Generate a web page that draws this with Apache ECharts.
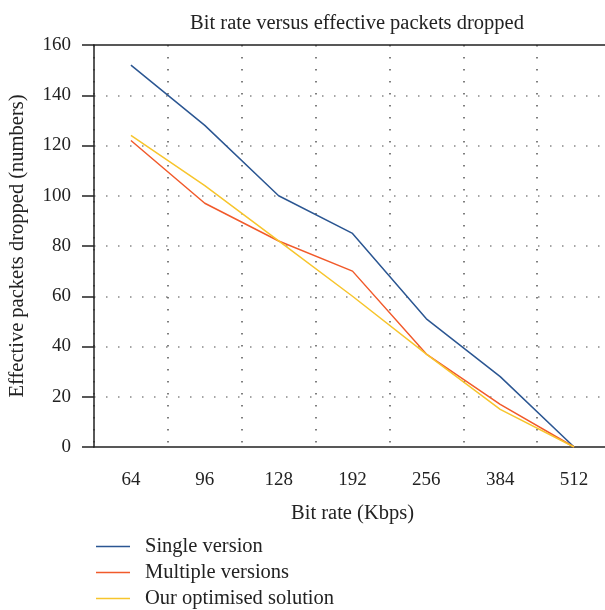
<!DOCTYPE html>
<html>
<head>
<meta charset="utf-8">
<script src="https://cdn.jsdelivr.net/npm/echarts@6/dist/echarts.min.js"></script>
<style>
  html, body { margin: 0; padding: 0; background: #fff; }
  #chart-container { width: 605px; height: 610px; }
</style>
</head>
<body>
<div id="chart-container"></div>
<script>
var bitRates = ['64', '96', '128', '192', '256', '384', '512'];
var singleVersion = [152, 128, 100, 85, 51, 28, 0];
var multipleVersions = [122, 97, 82, 70, 37, 17, 0];
var optimisedSolution = [124, 104, 82, 60, 37, 15, 0];

var dom = document.getElementById('chart-container');
var bitRateChart = echarts.init(dom, null, {
    renderer: 'canvas',
    useDirtyRect: false
});

var serifFont = '"Liberation Serif", "DejaVu Serif", serif';

var option;

option = {
    animation: false,
    textStyle: {
        fontFamily: serifFont
    },
    title: {
        text: 'Bit rate versus effective packets dropped',
        left: 352,
        textAlign: 'center',
        top: 8,
        textStyle: {
            fontFamily: serifFont,
            fontWeight: 'normal',
            fontSize: 20.5,
            color: '#222'
        }
    },
    legend: {
        orient: 'vertical',
        left: 96,
        top: 536,
        height: 90,
        padding: 0,
        icon: 'rect',
        itemWidth: 34,
        itemHeight: 1.5,
        itemGap: 5,
        textStyle: {
            fontFamily: serifFont,
            fontSize: 20.5,
            lineHeight: 21,
            color: '#222',
            padding: [0, 0, 0, 10]
        },
        data: ['Single version', 'Multiple versions', 'Our optimised solution']
    },
    grid: {
        left: 94,
        top: 45,
        width: 517,
        height: 402,
        outerBoundsMode: 'none'
    },
    xAxis: [
        {
            type: 'category',
            data: bitRates,
            boundaryGap: true,
            name: 'Bit rate (Kbps)',
            nameLocation: 'middle',
            nameGap: 56,
            nameTextStyle: {
                fontFamily: serifFont,
                fontSize: 20.5,
                color: '#222'
            },
            axisLine: {
                lineStyle: { color: '#222', width: 1.5 }
            },
            axisTick: {
                interval: 0,
                length: 11,
                lineStyle: { color: '#222', width: 1.5 }
            },
            axisLabel: {
                interval: 0,
                margin: 24,
                fontSize: 19,
                color: '#222',
                fontFamily: serifFont
            },
            splitLine: {
                show: true,
                interval: 0,
                lineStyle: { color: '#555', width: 1.5, type: [1.5, 10.5] }
            }
        },
        {
            // top frame line only
            type: 'category',
            data: bitRates,
            position: 'top',
            axisLine: {
                show: true,
                lineStyle: { color: '#222', width: 1.5 }
            },
            axisTick: { show: false },
            axisLabel: { show: false },
            splitLine: { show: false }
        }
    ],
    yAxis: {
        type: 'value',
        min: 0,
        max: 160,
        interval: 20,
        name: 'Effective packets dropped (numbers)',
        nameLocation: 'middle',
        nameGap: 66,
        nameTextStyle: {
            fontFamily: serifFont,
            fontSize: 20.5,
            color: '#222'
        },
        axisLine: {
            show: true,
            lineStyle: { color: '#222', width: 1.5 }
        },
        axisTick: {
            show: true,
            length: 12,
            lineStyle: { color: '#222', width: 1.5 }
        },
        axisLabel: {
            margin: 23,
            fontSize: 19,
            color: '#222',
            fontFamily: serifFont
        },
        splitLine: {
            show: true,
            showMinLine: false,
            showMaxLine: false,
            lineStyle: { color: '#888', width: 1.5, type: [1.5, 10.5] }
        }
    },
    series: [
        {
            name: 'Single version',
            type: 'line',
            data: singleVersion,
            symbol: 'none',
            lineStyle: { color: '#2b5692', width: 1.5 },
            itemStyle: { color: '#2b5692' }
        },
        {
            name: 'Multiple versions',
            type: 'line',
            data: multipleVersions,
            symbol: 'none',
            lineStyle: { color: '#f15a2b', width: 1.5 },
            itemStyle: { color: '#f15a2b' }
        },
        {
            name: 'Our optimised solution',
            type: 'line',
            data: optimisedSolution,
            symbol: 'none',
            lineStyle: { color: '#f7c52c', width: 1.5 },
            itemStyle: { color: '#f7c52c' }
        }
    ]
};

if (option && typeof option === 'object') {
    bitRateChart.setOption(option);
}
window.addEventListener('resize', bitRateChart.resize);
</script>
</body>
</html>
